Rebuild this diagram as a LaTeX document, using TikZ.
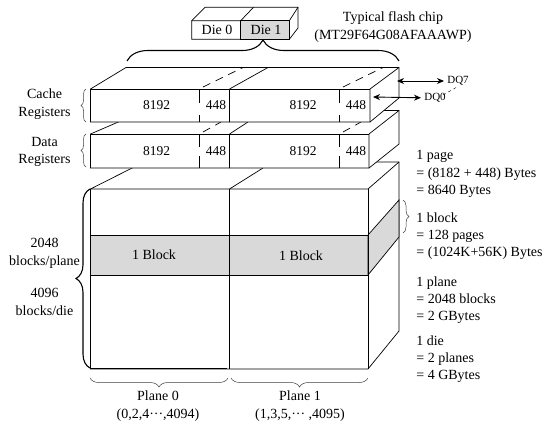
\documentclass[tikz,border=0pt]{standalone}
\usepackage{fontspec}
\setmainfont{Liberation Serif}
\usetikzlibrary{arrows.meta,decorations.pathreplacing}
\definecolor{bandgray}{HTML}{D9D9D9}
\begin{document}
\begin{tikzpicture}[x=1pt, y=-1pt, >={Stealth[length=7pt,width=6pt]}, line width=0.7pt,
  txt/.style={inner sep=0pt, align=center, font=\fontsize{14}{17.8}\selectfont},
  numtxt/.style={inner sep=0pt, font=\fontsize{13.5}{16}\selectfont},
  rtxt/.style={inner sep=0pt, align=left, anchor=west, font=\fontsize{14}{17.2}\selectfont},
  smalltxt/.style={inner sep=0pt, anchor=west, font=\fontsize{11}{13}\selectfont},
  bracethin/.style={decorate, decoration={brace, amplitude=#1}, line width=0.5pt, draw=black!75},
  bracebig/.style={decorate, decoration={brace, amplitude=#1}, line width=1.1pt},
  sidedash/.style={dash pattern=on 8pt off 6pt}]
\useasboundingbox (0,0) rectangle (543,426);
% plane cube
\draw[fill=white] (90.5,189) -- (144,162) -- (399,162) -- (399,331) -- (368,369) -- (90.5,369) -- cycle;
\draw (90.5,189) -- (368,189) -- (399,162);
\draw[fill=bandgray] (90.5,235) rectangle (368,275);
\draw[fill=bandgray] (368,235) -- (399,200) -- (399,237) -- (368,275) -- cycle;
\draw (229.5,189) -- (229.5,369);
\draw (229.5,189) -- (263,168);
\draw (368,189) -- (368,369);
\draw[line width=1.5pt] (90.5,368.5) -- (227,368.5);
% data registers
\draw[fill=white] (90.5,134) -- (145,110.5) -- (399,110.5) -- (399,144) -- (369,168) -- (90.5,168) -- cycle;
\draw (369,168) -- (369,134) -- (399,110.5);
\draw (90.5,134) -- (369,134);
\draw (229.5,134) -- (229.5,168) (229.5,134) -- (248,122);
\foreach \x in {199,339} {
  \draw (\x,134) -- (\x,147) (\x,156) -- (\x,168);
  \draw[sidedash] (\x+4,132) -- (\x+22,122);
}
% cache registers
\draw[fill=white] (90.5,89) -- (126,67.5) -- (399,67.5) -- (399,98) -- (370,122) -- (90.5,122) -- cycle;
\draw (370,122) -- (370,89) -- (399,67.5);
\draw (90.5,89) -- (370,89);
\draw (229.5,89) -- (229.5,122) (229.5,89) -- (268,67.5);
\foreach \x in {199,339} {
  \draw (\x,89) -- (\x,103) (\x,115) -- (\x,122);
  \draw[sidedash] (\x+4,87) -- (\x+44,67.5);
}
% register numbers
\foreach \y in {105,151} {
  \node[numtxt] (a\y) at (156.5,\y) {8192};
  \node[numtxt] (b\y) at (216,\y) {448};
  \node[numtxt] (c\y) at (303,\y) {8192};
  \node[numtxt] (d\y) at (356,\y) {448};
}
% chip with two dies
\draw[fill=white] (191.7,20.7) -- (205,7.3) -- (298,7.3) -- (298,28) -- (289.3,39.3) -- (191.7,39.3) -- cycle;
\draw[fill=bandgray] (240.7,20.7) rectangle (289.3,39.3);
\draw (191.7,20.7) -- (240.7,20.7) (240.7,20.7) -- (253.5,7.3) (289.3,20.7) -- (298,7.3);
\node[txt] (die0) at (217,30) {Die 0};
\node[txt] (die1) at (266,30) {Die 1};
\node[txt] (chip) at (393,27) {Typical flash chip\\(MT29F64G08AFAAAWP)};
% braces
\draw[bracebig=21pt] (127,61) -- (399,61);
\draw[bracebig=14pt] (90,368) -- (90,189);
\draw[bracethin=5pt] (86,122) -- (86,89);
\draw[bracethin=5pt] (86,167) -- (86,134);
\draw[bracethin=9pt] (228,378) -- (90,378);
\draw[bracethin=9pt] (368,378) -- (231,378);
\draw[bracethin=6pt] (403,200) -- (403,233);
% dq lines
\coordinate (dq7l) at (397,81);
\coordinate (dq0l) at (373,97);
\coordinate (dqa) at (443,95);
\coordinate (dqb) at (457,87);
\node[smalltxt] (dq7) at (447,81) {DQ7};
\node[smalltxt] (dq0) at (424,98) {DQ0};
\draw[<->, line width=0.9pt, shorten >=3pt] (dq7l) -- (dq7);
\draw[<->, line width=0.9pt, shorten >=3pt] (dq0l) -- (dq0);
\draw[dashed, line width=0.4pt] (dqa) -- (dqb);
% left labels
\node[txt] (cache) at (44.5,104) {Cache\\Registers};
\node[txt] (data) at (44.5,152) {Data\\Registers};
\node[txt] (bplane) at (44.5,253) {2048\\blocks/plane};
\node[txt] (bdie) at (44.5,302) {4096\\blocks/die};
% band and plane labels
\node[txt] (block0) at (154,255) {1 Block};
\node[txt] (block1) at (301,256) {1 Block};
\node[txt] (plane0) at (158,406) {Plane 0\\(0,2,4···,4094)};
\node[txt] (plane1) at (300,406) {Plane 1\\(1,3,5,··· ,4095)};
% right column
\node[rtxt] (page) at (416,174) {1 page\\= (8182 + 448) Bytes\\= 8640 Bytes};
\node[rtxt] (blk) at (416,236) {1 block\\= 128 pages\\= (1024K+56K) Bytes};
\node[rtxt] (pln) at (416,300) {1 plane\\= 2048 blocks\\= 2 GBytes};
\node[rtxt] (die) at (416,359) {1 die\\= 2 planes\\= 4 GBytes};
\end{tikzpicture}
\end{document}
